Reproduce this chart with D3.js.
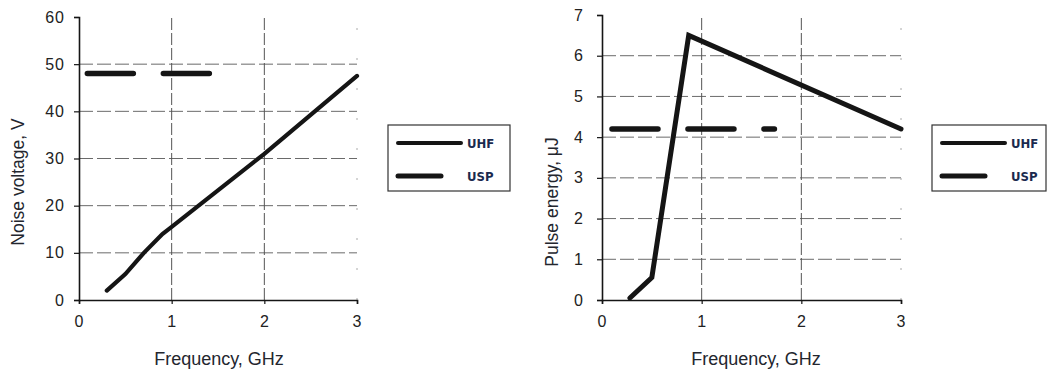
<!DOCTYPE html>
<html>
<head>
<meta charset="utf-8">
<script src="https://cdn.jsdelivr.net/npm/d3@7"></script>
<style>
  body { margin: 0; background: #fff; }
  svg { display: block; }
</style>
</head>
<body>
<div id="chart"></div>
<script>
// ---- data ----
const xTicks = [0, 1, 2, 3];

// left panel: noise voltage
const noiseTicks = [0, 10, 20, 30, 40, 50, 60];
const uhfNoiseFreq = [0.3, 0.5, 0.7, 0.9, 1.0, 2.0, 3.0];
const uhfNoiseV = [2, 5.5, 10, 14, 15.5, 31, 47.5];
const uspNoiseFreq = [0.09, 1.45];
const uspNoiseV = [48, 48];

// right panel: pulse energy
const energyTicks = [0, 1, 2, 3, 4, 5, 6, 7];
const uhfEnergyFreq = [0.28, 0.5, 0.87, 3.0];
const uhfEnergyUJ = [0.05, 0.55, 6.5, 4.2];
const uspEnergyFreq = [0.1, 1.73];
const uspEnergyUJ = [4.2, 4.2];

const seriesNames = ["UHF", "USP"];

const width = 1050, height = 371;
const ink = "#151515";

const svg = d3.select("#chart").append("svg")
    .attr("width", width)
    .attr("height", height)
    .attr("viewBox", [0, 0, width, height]);

function zip(xs, ys) {
    return xs.map((x, i) => [x, ys[i]]);
}

function drawPanel(p) {
    const x = d3.scaleLinear().domain([0, 3]).range([p.x0, p.x1]);
    const y = d3.scaleLinear().domain(p.yDomain).range([300, p.yTop]);
    const g = svg.append("g");

    // dashed grid
    g.append("g").selectAll("line.h")
        .data(p.yTicks.filter(d => d > 0 && d < p.yDomain[1]))
        .join("line")
        .attr("x1", x(0)).attr("x2", x(3))
        .attr("y1", d => y(d)).attr("y2", d => y(d))
        .attr("stroke", "#6a6a6a").attr("stroke-width", 1)
        .attr("stroke-dasharray", "14,4");
    g.append("g").selectAll("line.v")
        .data([1, 2])
        .join("line")
        .attr("x1", d => x(d)).attr("x2", d => x(d))
        .attr("y1", y(0)).attr("y2", p.yTop)
        .attr("stroke", "#555").attr("stroke-width", 1)
        .attr("stroke-dasharray", "12,3");
    // faint right edge
    g.append("line")
        .attr("x1", x(3)).attr("x2", x(3))
        .attr("y1", y(0)).attr("y2", p.yTop)
        .attr("stroke", "#aaa").attr("stroke-width", 1)
        .attr("stroke-dasharray", "2,28");

    // axes
    const yAxis = g.append("g")
        .attr("transform", `translate(${x(0)},0)`)
        .call(d3.axisLeft(y).tickValues(p.yTicks).tickFormat(d3.format("d"))
            .tickSize(5).tickPadding(p.yPad));
    const xAxis = g.append("g")
        .attr("transform", `translate(0,${y(0)})`)
        .call(d3.axisBottom(x).tickValues(xTicks).tickFormat(d3.format("d"))
            .tickSize(4).tickPadding(12));
    [xAxis, yAxis].forEach(a => {
        a.select(".domain").attr("stroke", ink).attr("stroke-width", 1.6);
        a.selectAll(".tick line").attr("stroke", ink).attr("stroke-width", 1.2);
        a.selectAll(".tick text")
            .attr("fill", "#222")
            .style("font-family", "'Liberation Sans', Arial, sans-serif")
            .style("font-size", "16px")
            .style("letter-spacing", "1px");
    });

    // series
    const line = d3.line().x(d => x(d[0])).y(d => y(d[1]));
    g.append("path")
        .datum(p.uhf)
        .attr("d", line)
        .attr("fill", "none")
        .attr("stroke", ink)
        .attr("stroke-width", p.uhfWidth)
        .attr("stroke-linejoin", "miter")
        .attr("stroke-linecap", "round");
    g.append("path")
        .datum(p.usp)
        .attr("d", line)
        .attr("fill", "none")
        .attr("stroke", ink)
        .attr("stroke-width", 5.5)
        .attr("stroke-linecap", "round")
        .attr("stroke-dasharray", p.uspDash);

    // axis titles
    g.append("text")
        .attr("transform", `translate(${p.yTitleX},${p.yTitleY}) rotate(-90)`)
        .attr("text-anchor", "middle")
        .attr("fill", "#23262e")
        .style("font-family", "'Liberation Sans', Arial, sans-serif")
        .style("font-size", "17.5px")
        .text(p.yTitle);
    g.append("text")
        .attr("x", p.xTitleX).attr("y", 365)
        .attr("text-anchor", "middle")
        .attr("fill", "#23262e")
        .style("font-family", "'Liberation Sans', Arial, sans-serif")
        .style("font-size", "18px")
        .text("Frequency, GHz");

    // legend
    const lg = svg.append("g").attr("transform", `translate(${p.legX},125)`);
    lg.append("rect")
        .attr("x", 0).attr("y", 0)
        .attr("width", p.legW).attr("height", 66)
        .attr("fill", "none")
        .attr("stroke", "#333").attr("stroke-width", 1.2);
    const rows = lg.selectAll("g.row")
        .data(seriesNames)
        .join("g")
        .attr("transform", (d, i) => `translate(0,${18 + i * 33})`);
    rows.append("line")
        .attr("x1", 10)
        .attr("x2", (d, i) => i === 0 ? 73 : 53)
        .attr("y1", 0).attr("y2", 0)
        .attr("stroke", ink)
        .attr("stroke-width", (d, i) => i === 0 ? 4 : 5)
        .attr("stroke-linecap", "round");
    rows.append("text")
        .attr("x", 79).attr("y", 5)
        .attr("fill", "#1b2a4e")
        .style("font-family", "'DejaVu Sans Condensed', 'Liberation Sans Narrow', sans-serif")
        .style("font-weight", "bold")
        .style("font-size", "13px")
        .text(d => d);
}

drawPanel({
    x0: 79, x1: 357, yTop: 17, yDomain: [0, 60], yTicks: noiseTicks, yPad: 9,
    uhf: zip(uhfNoiseFreq, uhfNoiseV), usp: zip(uspNoiseFreq, uspNoiseV),
    uhfWidth: 4.2, uspDash: "46,30",
    yTitle: "Noise voltage, V", yTitleX: 24, yTitleY: 182, xTitleX: 219,
    legX: 388, legW: 122
});

drawPanel({
    x0: 602, x1: 901, yTop: 15, yDomain: [0, 7], yTicks: energyTicks, yPad: 13,
    uhf: zip(uhfEnergyFreq, uhfEnergyUJ), usp: zip(uspEnergyFreq, uspEnergyUJ),
    uhfWidth: 5, uspDash: "46,30",
    yTitle: "Pulse energy, μJ", yTitleX: 558, yTitleY: 202, xTitleX: 756,
    legX: 932, legW: 114
});
</script>
</body>
</html>
